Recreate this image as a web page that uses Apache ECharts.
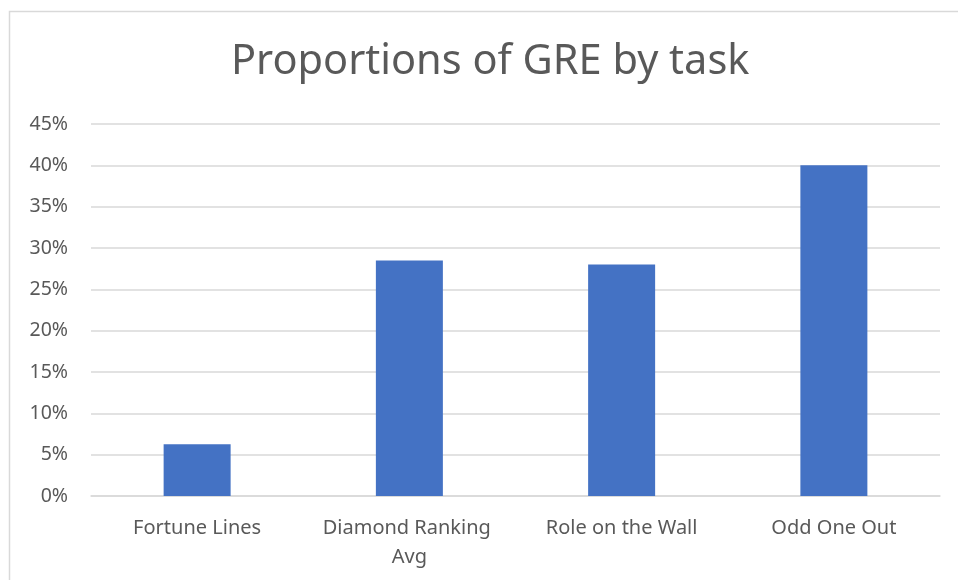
<!DOCTYPE html>
<html>
<head>
<meta charset="utf-8">
<title>Proportions of GRE by task</title>
<script src="https://cdn.jsdelivr.net/npm/echarts@6/dist/echarts.min.js"></script>
<style>
  html, body { margin: 0; padding: 0; background: #fff; }
  #chart { width: 958px; height: 580px; }
</style>
</head>
<body>
<div id="chart"></div>
<script>
  // data
  var tasks = ['Fortune Lines', 'Diamond Ranking Avg', 'Role on the Wall', 'Odd One Out']
  var greShare = [6.25, 28.5, 28, 40]
  var yTicks = [0, 5, 10, 15, 20, 25, 30, 35, 40, 45]

  var textColor = '#595959'
  var gridColor = '#d9d9d9'
  var font = '"Noto Sans", "Open Sans", sans-serif'

  var chart = echarts.init(document.getElementById('chart'))
  var option = {
    animation: false,
    backgroundColor: '#fff',
    title: {
      text: 'Proportions of GRE by task',
      left: 226,
      top: 36,
      textStyle: {
        color: textColor,
        fontFamily: font,
        fontSize: 41.5,
        fontWeight: 'normal'
      }
    },
    graphic: [{
      type: 'rect',
      shape: { x: 9.5, y: 11.5, width: 960, height: 600 },
      style: { fill: 'none', stroke: gridColor, lineWidth: 1.5 },
      silent: true
    }],
    grid: {
      left: 91,
      right: 18,
      top: 124,
      bottom: 84
    },
    xAxis: {
      type: 'category',
      data: tasks,
      axisLine: { lineStyle: { color: gridColor, width: 1.5 } },
      axisTick: { show: false },
      axisLabel: {
        interval: 0,
        color: textColor,
        fontFamily: font,
        fontSize: 20,
        margin: 18,
        lineHeight: 29,
        width: 190,
        overflow: 'break'
      }
    },
    yAxis: {
      type: 'value',
      min: yTicks[0],
      max: yTicks[yTicks.length - 1],
      interval: yTicks[1] - yTicks[0],
      axisLine: { show: false },
      axisTick: { show: false },
      splitLine: { lineStyle: { color: gridColor, width: 1.5 } },
      axisLabel: {
        color: textColor,
        fontFamily: font,
        fontSize: 19.5,
        margin: 23,
        formatter: '{value}%'
      }
    },
    series: [{
      name: 'GRE',
      type: 'bar',
      data: greShare,
      barWidth: 67,
      itemStyle: { color: '#4472c4' }
    }]
  }
  chart.setOption(option)
</script>
</body>
</html>
